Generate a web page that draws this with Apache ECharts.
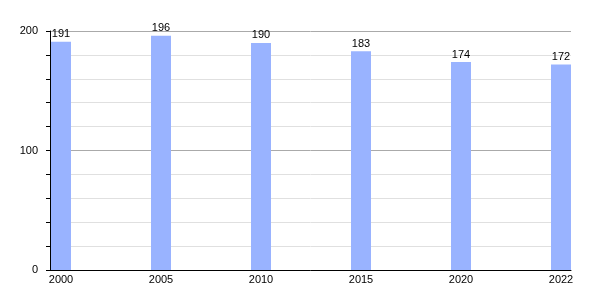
<!DOCTYPE html>
<html><head><meta charset="utf-8">
<script src="https://cdn.jsdelivr.net/npm/echarts@6/dist/echarts.min.js"></script>
<style>html,body{margin:0;padding:0;background:#fff}#c{width:600px;height:300px}</style>
</head><body><div id="c"></div>
<script>
const years = ['2000','2005','2010','2015','2020','2022'];
const values = [191,196,190,183,174,172];
const yTicks = [0,100,200];

const chart = echarts.init(document.getElementById('c'), null, {renderer:'canvas'});
const font = 'Liberation Sans, Arial, sans-serif';
chart.setOption({
  animation:false,
  grid:{left:50, right:29, top:31, bottom:30},
  xAxis:{
    type:'value', min:-0.11, max:5.1,
    axisLine:{show:true, onZero:false, lineStyle:{color:'#000', width:1}},
    axisTick:{show:false},
    splitLine:{show:false},
    axisLabel:{customValues: years.map((y,i)=>i), formatter: v => years[Math.round(v)],
      color:'#000', fontSize:11, fontFamily:font, margin:4}
  },
  yAxis:{
    type:'value', min:0, max:200, interval:20,
    axisLine:{show:true, onZero:false, lineStyle:{color:'#000', width:1}},
    axisTick:{show:true, length:4, lineStyle:{color:'#000'}},
    axisLabel:{formatter: v => yTicks.includes(v) ? String(v) : '', color:'#000', fontSize:11, fontFamily:font, margin:12},
    splitLine:{show:true, lineStyle:{color:['#aaaaaa','#e0e0e0','#e0e0e0','#e0e0e0','#e0e0e0'], width:1}}
  },
  series:[{
    type:'bar', barWidth:20,
    data: values.map((v,i)=>[i,v]),
    itemStyle:{color:'#99b3ff'},
    label:{show:true, position:'top', distance:2, color:'#000', fontSize:11, fontFamily:font}
  }]
});
</script></body></html>
